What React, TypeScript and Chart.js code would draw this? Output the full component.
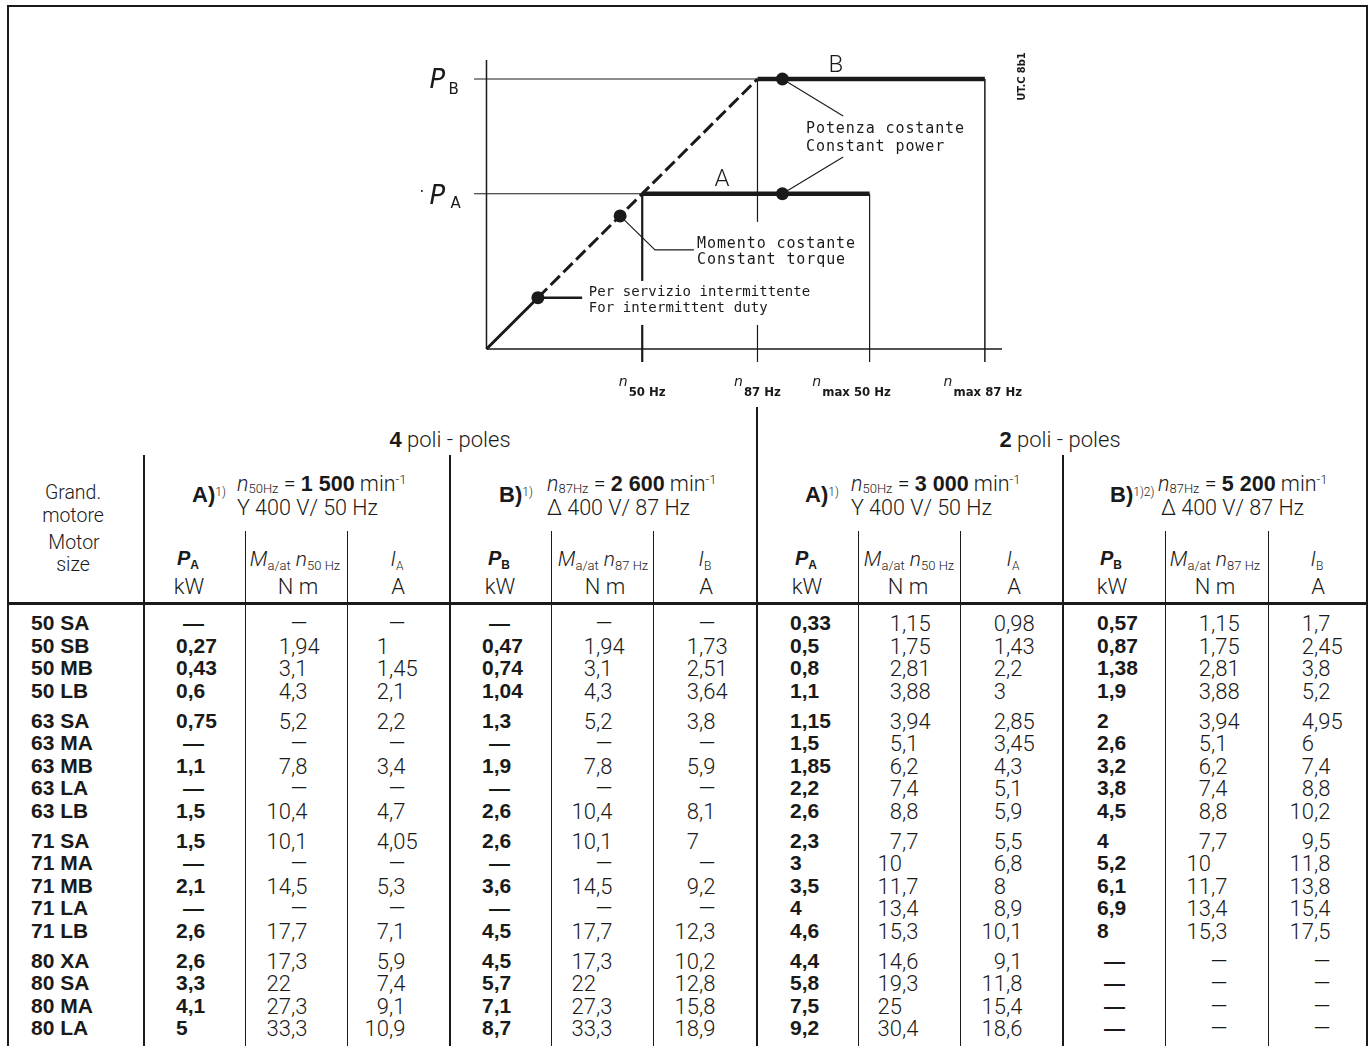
import React, { useEffect, useRef } from 'react';
import { Chart, registerables } from 'chart.js';

Chart.register(...registerables);

/* ---------------- diagram data ---------------- */
const speedTickValues = [50, 87, 123, 160]; // n50Hz, n87Hz, nmax50Hz, nmax87Hz
const speedTickLabels = ['50 Hz', '87 Hz', 'max 50 Hz', 'max 87 Hz'];
const powerLevels = [0.575, 1]; // P_A, P_B (relative power)
const powerLabels = ['A', 'B'];
const speedAxisEnd = 165.5;
const powerAxisEnd = 1.07;
const markerSpeeds = [16.5, 42.9, 95, 95];
const markerPowers = [0.19, 0.493, 0.575, 1];
const noteTexts = [
  ['Potenza costante', 'Constant power'],
  ['Momento costante', 'Constant torque'],
  ['Per servizio intermittente', 'For intermittent duty'],
];
const drawingCode = 'UT.C 8b1';

/* ---------------- table data ---------------- */
const motorSizes = [
  '50 SA', '50 SB', '50 MB', '50 LB',
  '63 SA', '63 MA', '63 MB', '63 LA', '63 LB',
  '71 SA', '71 MA', '71 MB', '71 LA', '71 LB',
  '80 XA', '80 SA', '80 MA', '80 LA',
];
const frameGroupSizes = [4, 5, 5, 4];
const poleTitles = ['4', '2'];
const groupLabels = ['A)', 'B)', 'A)', 'B)'];
const groupNotes = ['1)', '1)', '1)', '1)2)'];
const groupSpeedSubs = ['50Hz', '87Hz', '50Hz', '87Hz'];
const groupSpeeds = ['1 500', '2 600', '3 000', '5 200'];
const groupSupplies = ['Y 400 V/ 50 Hz', '\u0394 400 V/ 87 Hz', 'Y 400 V/ 50 Hz', '\u0394 400 V/ 87 Hz'];
const columnSubs = ['A', 'B', 'A', 'B'];
const torqueSubs = ['50 Hz', '87 Hz', '50 Hz', '87 Hz'];

const p4A_P = [null, 0.27, 0.43, 0.6, 0.75, null, 1.1, null, 1.5, 1.5, null, 2.1, null, 2.6, 2.6, 3.3, 4.1, 5];
const p4A_M = [null, 1.94, 3.1, 4.3, 5.2, null, 7.8, null, 10.4, 10.1, null, 14.5, null, 17.7, 17.3, 22, 27.3, 33.3];
const p4A_I = [null, 1, 1.45, 2.1, 2.2, null, 3.4, null, 4.7, 4.05, null, 5.3, null, 7.1, 5.9, 7.4, 9.1, 10.9];
const p4B_P = [null, 0.47, 0.74, 1.04, 1.3, null, 1.9, null, 2.6, 2.6, null, 3.6, null, 4.5, 4.5, 5.7, 7.1, 8.7];
const p4B_M = [null, 1.94, 3.1, 4.3, 5.2, null, 7.8, null, 10.4, 10.1, null, 14.5, null, 17.7, 17.3, 22, 27.3, 33.3];
const p4B_I = [null, 1.73, 2.51, 3.64, 3.8, null, 5.9, null, 8.1, 7, null, 9.2, null, 12.3, 10.2, 12.8, 15.8, 18.9];
const p2A_P = [0.33, 0.5, 0.8, 1.1, 1.15, 1.5, 1.85, 2.2, 2.6, 2.3, 3, 3.5, 4, 4.6, 4.4, 5.8, 7.5, 9.2];
const p2A_M = [1.15, 1.75, 2.81, 3.88, 3.94, 5.1, 6.2, 7.4, 8.8, 7.7, 10, 11.7, 13.4, 15.3, 14.6, 19.3, 25, 30.4];
const p2A_I = [0.98, 1.43, 2.2, 3, 2.85, 3.45, 4.3, 5.1, 5.9, 5.5, 6.8, 8, 8.9, 10.1, 9.1, 11.8, 15.4, 18.6];
const p2B_P = [0.57, 0.87, 1.38, 1.9, 2, 2.6, 3.2, 3.8, 4.5, 4, 5.2, 6.1, 6.9, 8, null, null, null, null];
const p2B_M = [1.15, 1.75, 2.81, 3.88, 3.94, 5.1, 6.2, 7.4, 8.8, 7.7, 10, 11.7, 13.4, 15.3, null, null, null, null];
const p2B_I = [1.7, 2.45, 3.8, 5.2, 4.95, 6, 7.4, 8.8, 10.2, 9.5, 11.8, 13.8, 15.4, 17.5, null, null, null, null];

/* ---------------- styling / layout ---------------- */
const INK = '#1a1a1a';
const LIGHT = "Roboto, 'Liberation Sans', sans-serif";
const BOLD = "'Liberation Sans', Arial, sans-serif";
const PLOT = "'DejaVu Sans Mono', monospace";

const valueColumns = [p4A_P, p4A_M, p4A_I, p4B_P, p4B_M, p4B_I, p2A_P, p2A_M, p2A_I, p2B_P, p2B_M, p2B_I];
const groupLayout = [
  { label: 192, block: 237, pLeft: 176, mInt: 291, iInt: 389, pHead: 188, mHead: 295, nmHead: 298, iHead: 397 },
  { label: 499, block: 547, pLeft: 482, mInt: 596, iInt: 699, pHead: 499, mHead: 603, nmHead: 605, iHead: 705 },
  { label: 805, block: 851, pLeft: 790, mInt: 902, iInt: 1006, pHead: 806, mHead: 909, nmHead: 908, iHead: 1013 },
  { label: 1110, block: 1158, pLeft: 1097, mInt: 1211, iInt: 1314, pHead: 1111, mHead: 1215, nmHead: 1215, iHead: 1317 },
];
const subDividers = [245, 347, 551, 653, 858, 960, 1165, 1268];
const groupDividers = [143, 449, 1062];
const tickLabelShift = [0, 0, -18, -2];
const HEAD_LINE1 = 484;
const HEAD_LINE2 = 508;
const HEAD_SIZE = 21.5;

const fmt = (v: number) => String(v).replace('.', ',');

function Txt(props: any) {
  const { x, y, size = 22, lh, bold = false, italic = false, align = 'left', family, weight, children, color } = props;
  const L = lh ?? size;
  const yy = bold ? y - 1 : y;
  const style: React.CSSProperties = {
    position: 'absolute',
    left: x,
    top: yy - L / 2 + 0.0135 * size,
    height: L,
    fontSize: size,
    lineHeight: `${L}px`,
    whiteSpace: 'nowrap',
    fontFamily: family ?? (bold ? BOLD : LIGHT),
    fontWeight: weight ?? (bold ? 700 : 300),
    fontStyle: italic ? 'italic' : 'normal',
    color: color ?? INK,
    transform: align === 'center' ? 'translateX(-50%)' : align === 'right' ? 'translateX(-100%)' : undefined,
  };
  return <div style={style}>{children}</div>;
}

const Piece = ({ children, lh = 16, italic = false, bold = false }: any) => (
  <span style={{
    display: 'inline-block', lineHeight: `${lh}px`, fontStyle: italic ? 'italic' : 'normal',
    fontFamily: bold ? BOLD : undefined, fontWeight: bold ? 700 : undefined,
  }}>{children}</span>
);

const Sub = ({ children, size = 13, drop = 2, family = LIGHT, weight = 300 }: any) => (
  <span style={{
    display: 'inline-block', fontSize: size, position: 'relative', top: drop, lineHeight: '9px',
    fontFamily: family, fontWeight: weight, fontStyle: 'normal',
  }}>{children}</span>
);

function Dec({ v, intRight, y }: any) {
  const size = 22;
  if (v === null) return <Txt x={intRight + 8} y={y} align="center" size={size} lh={20}>—</Txt>;
  const s = fmt(v);
  const k = s.indexOf(',');
  const ip = k < 0 ? s : s.slice(0, k);
  const fp = k < 0 ? '' : s.slice(k);
  return (
    <div style={{ position: 'absolute', left: intRight - 60, top: y - 10 + 0.0135 * size, height: 20, fontSize: size, lineHeight: '20px', fontFamily: LIGHT, fontWeight: 300, color: INK, whiteSpace: 'nowrap' }}>
      <span style={{ display: 'inline-block', width: 60, textAlign: 'right' }}>{ip}</span>{fp}
    </div>
  );
}

function rowCentres(): number[] {
  const ys: number[] = [];
  let y = 624;
  frameGroupSizes.forEach((n, g) => {
    if (g > 0) y += 7.5;
    for (let k = 0; k < n; k++) { ys.push(y); y += 22.5; }
  });
  return ys;
}

/* ---------------- diagram plugin (texts) ---------------- */
const noteAnchors = [
  { x: 102.6, y: 0.819, size: 15, spacing: 0.9, lh: 18, padT: 0, padB: 0 },
  { x: 67.6, y: 0.393, size: 15, spacing: 0.9, lh: 16, padT: 21, padB: 22 },
  { x: 32.8, y: 0.215, size: 14, spacing: 0.1, lh: 16, padT: 10, padB: 18 },
];

const diagramText = {
  id: 'diagramText',
  afterDatasetDraw(chart: any, args: any) {
    if (args.index !== 0) return;
    const { ctx, scales } = chart;
    const X = (v: number) => scales.x.getPixelForValue(v);
    const Y = (v: number) => scales.y.getPixelForValue(v);
    ctx.save();
    noteAnchors.forEach((a, i) => {
      if (!a.padT && !a.padB) return;
      ctx.font = `${a.size}px ${PLOT}`;
      (ctx as any).letterSpacing = `${a.spacing}px`;
      const w = Math.max(...noteTexts[i].map((t) => ctx.measureText(t).width));
      const top = Y(a.y) - a.padT;
      const bottom = Y(a.y) + a.lh * (noteTexts[i].length - 1) + a.padB;
      ctx.fillStyle = '#ffffff';
      ctx.fillRect(X(a.x) - 4, top, w + 8, bottom - top);
    });
    ctx.restore();
  },
  afterDatasetsDraw(chart: any) {
    const { ctx, scales } = chart;
    const X = (v: number) => scales.x.getPixelForValue(v);
    const Y = (v: number) => scales.y.getPixelForValue(v);
    ctx.save();
    ctx.fillStyle = INK;
    ctx.textBaseline = 'alphabetic';
    noteAnchors.forEach((a, i) => {
      ctx.font = `${a.size}px ${PLOT}`;
      (ctx as any).letterSpacing = `${a.spacing}px`;
      noteTexts[i].forEach((t, k) => {
        ctx.fillText(t, X(a.x), Y(a.y) + k * a.lh + a.size * 0.36);
      });
    });
    (ctx as any).letterSpacing = '0px';
    ctx.font = `300 24px Roboto`;
    ctx.textAlign = 'center';
    ctx.fillText(powerLabels[1], X(112.2), Y(1.057) + 8.5);
    ctx.fillText(powerLabels[0], X(75.6), Y(0.635) + 8.5);
    ctx.textAlign = 'left';
    const x0 = X(0);
    ctx.font = `oblique 26px 'DejaVu Sans'`;
    ctx.fillText('P', x0 - 57, Y(powerLevels[1]) + 8.5);
    ctx.fillText('P', x0 - 57, Y(powerLevels[0]) + 10.3);
    ctx.font = `15px 'DejaVu Sans'`;
    ctx.fillText(powerLabels[1], x0 - 38, Y(powerLevels[1]) + 15);
    ctx.fillText(powerLabels[0], x0 - 36, Y(powerLevels[0]) + 14);
    ctx.fillText('\u00b7', x0 - 67, Y(powerLevels[0]) + 3);
    speedTickValues.forEach((v, i) => {
      ctx.font = `oblique 14px 'DejaVu Sans'`;
      const nW = ctx.measureText('n').width;
      ctx.font = `bold 13px 'DejaVu Sans Condensed', 'DejaVu Sans'`;
      const lW = ctx.measureText(speedTickLabels[i]).width;
      const start = X(v) + tickLabelShift[i] - (nW + 1 + lW) / 2;
      ctx.font = `oblique 14px 'DejaVu Sans'`;
      ctx.fillText('n', start, Y(0) + 37);
      ctx.font = `bold 13px 'DejaVu Sans Condensed', 'DejaVu Sans'`;
      ctx.fillText(speedTickLabels[i], start + nW + 1, Y(0) + 46.5);
    });
    ctx.save();
    ctx.translate(X(speedTickValues[3]) + 37, Y(1) - 2.5);
    ctx.rotate(-Math.PI / 2);
    ctx.font = `bold 11px 'DejaVu Sans Condensed', 'DejaVu Sans'`;
    ctx.textAlign = 'center';
    ctx.textBaseline = 'middle';
    ctx.fillText(drawingCode, 0, 0);
    ctx.restore();
    ctx.restore();
  },
};

function Diagram() {
  const ref = useRef<HTMLCanvasElement>(null);
  useEffect(() => {
    const [PA, PB] = powerLevels;
    const [n50, n87, nmax50, nmax87] = speedTickValues;
    const below = -0.048;
    const ln = (data: any[], width: number, order: number, extra: any = {}) => ({
      data, borderColor: INK, backgroundColor: INK, borderWidth: width, showLine: true,
      pointRadius: 0, pointHoverRadius: 0, fill: false, clip: false, order, borderCapStyle: 'butt', ...extra,
    });
    const m = (i: number) => ({ x: markerSpeeds[i], y: markerPowers[i] });
    const datasets: any[] = [
      ln([{ x: 0, y: 0 }, { x: 0, y: powerAxisEnd }], 1.5, 3),
      ln([{ x: 0, y: 0 }, { x: speedAxisEnd, y: 0 }], 1.5, 3),
      ln([{ x: -4, y: PB }, { x: n87, y: PB }], 1.1, 3),
      ln([{ x: -4, y: PA }, { x: n50, y: PA }], 1.1, 3),
      ln([{ x: n50, y: PA }, { x: n50, y: below }], 2.2, 3),
      ln([{ x: n87, y: PB }, { x: n87, y: below }], 1.2, 3),
      ln([{ x: nmax50, y: PA }, { x: nmax50, y: below }], 1.2, 3),
      ln([{ x: nmax87, y: PB }, { x: nmax87, y: below }], 1.5, 3),
      ln([{ x: n50, y: PA }, { x: nmax50, y: PA }], 4.5, 1),
      ln([{ x: n87, y: PB }, { x: nmax87, y: PB }], 4.5, 1),
      ln([{ x: 0, y: 0 }, m(0)], 3, 1),
      ln([m(0), { x: n87, y: PB }], 3, 1, { borderDash: [13, 5] }),
      ln([m(3), { x: 114.5, y: 0.863 }], 1.1, 1),
      ln([m(2), { x: 114.5, y: 0.711 }], 1.1, 1),
      ln([m(1), { x: 54.1, y: 0.367 }, { x: 66.6, y: 0.367 }], 1.1, 1),
      ln([m(0), { x: 30.7, y: 0.19 }], 2.6, 1),
      {
        data: markerSpeeds.map((s, i) => ({ x: s, y: markerPowers[i] })),
        showLine: false, pointRadius: 6.5, pointHoverRadius: 6.5, pointBackgroundColor: INK,
        pointBorderWidth: 0, clip: false, order: 0,
      },
    ];
    const chart = new Chart(ref.current!, {
      type: 'scatter',
      data: { datasets },
      options: {
        animation: false,
        responsive: false,
        devicePixelRatio: 1,
        events: [],
        layout: { padding: { left: 87.8, right: 58, top: 30.1, bottom: 44.8 } },
        scales: {
          x: { type: 'linear', min: -6, max: speedAxisEnd, display: false },
          y: { type: 'linear', min: -0.06, max: powerAxisEnd, display: false },
        },
        plugins: { legend: { display: false }, tooltip: { enabled: false } },
      },
      plugins: [diagramText],
    } as any);
    return () => chart.destroy();
  }, []);
  return (
    <canvas ref={ref} width={680} height={380} style={{ position: 'absolute', left: 380, top: 30, width: 680, height: 380 }} />
  );
}

export default function App() {
  const ys = rowCentres();
  const vline = (x: number, top: number, w: number, key: string) => (
    <div key={key} style={{ position: 'absolute', left: x, top, width: w, height: 1046 - top + 20, background: INK }} />
  );
  return (
    <div style={{ position: 'fixed', left: 0, top: 0, width: 1372, height: 1046, background: '#fff', overflow: 'hidden', color: INK }}>
      <div style={{ position: 'absolute', left: 7, top: 5, width: 1361, height: 1200, border: `2px solid ${INK}`, boxSizing: 'border-box' }} />
      <Diagram />
      {vline(756, 407, 2, 'pole')}
      {groupDividers.map((x, i) => vline(x, 455, 2, 'g' + i))}
      {subDividers.map((x, i) => vline(x, 531, 1, 's' + i))}
      <div style={{ position: 'absolute', left: 7, top: 602, width: 1361, height: 2.5, background: INK }} />

      {poleTitles.map((p, i) => (
        <Txt key={'pt' + i} x={i === 0 ? 450 : 1060} y={440} align="center" lh={20}>
          <Piece bold lh={20}>{p}</Piece> poli - poles
        </Txt>
      ))}

      <Txt x={73} y={493} align="center" size={19.5} lh={16}>Grand.</Txt>
      <Txt x={73} y={515.5} align="center" size={19.5} lh={16}>motore</Txt>
      <Txt x={74} y={542.5} align="center" size={19.5} lh={16}>Motor</Txt>
      <Txt x={73} y={565} align="center" size={19.5} lh={16}>size</Txt>

      {groupLayout.map((g, i) => (
        <React.Fragment key={'gh' + i}>
          <Txt x={g.label} y={496} bold size={22} lh={16}>
            {groupLabels[i]}
            <Sub size={12} drop={-6}>{groupNotes[i]}</Sub>
          </Txt>
          <Txt x={g.block} y={HEAD_LINE1} size={HEAD_SIZE} lh={16}>
            <Piece italic>n</Piece><Sub size={13} drop={2}>{groupSpeedSubs[i]}</Sub> = <Piece bold>{groupSpeeds[i]}</Piece> min<Sub size={13} drop={-7}>-1</Sub>
          </Txt>
          <Txt x={g.block + (i === 3 ? 3 : 0)} y={HEAD_LINE2} size={HEAD_SIZE} lh={16}>{groupSupplies[i]}</Txt>
          <Txt x={g.pHead} y={559} align="center" bold size={20} lh={18}>
            <Piece italic bold lh={18}>P</Piece><Sub size={12} drop={4} family={BOLD} weight={700}>{columnSubs[i]}</Sub>
          </Txt>
          <Txt x={g.pHead + 1} y={587} align="center" lh={18}>kW</Txt>
          <Txt x={g.mHead} y={559} align="center" size={21} lh={18}>
            <Piece italic lh={18}>M</Piece><Sub size={13} drop={4}>a/at</Sub> <Piece italic lh={18}>n</Piece><Sub size={13} drop={4}>{torqueSubs[i]}</Sub>
          </Txt>
          <Txt x={g.nmHead} y={587} align="center" lh={18}>N m</Txt>
          <Txt x={g.iHead} y={559} align="center" size={21} lh={18}>
            <Piece italic lh={18}>I</Piece><Sub size={12} drop={4}>{columnSubs[i]}</Sub>
          </Txt>
          <Txt x={g.iHead + 1} y={587} align="center" lh={18}>A</Txt>
        </React.Fragment>
      ))}

      {motorSizes.map((s, r) => (
        <Txt key={'ms' + r} x={31} y={ys[r]} bold size={21} lh={20}>{s}</Txt>
      ))}

      {valueColumns.map((col, c) => {
        const g = groupLayout[Math.floor(c / 3)];
        const kind = c % 3;
        return col.map((v, r) => {
          const key = `v${c}-${r}`;
          if (kind === 0) {
            return v === null
              ? <Txt key={key} x={g.pLeft + 7} y={ys[r]} bold size={21} lh={20}>—</Txt>
              : <Txt key={key} x={g.pLeft} y={ys[r]} bold size={21} lh={20}>{fmt(v)}</Txt>;
          }
          return <Dec key={key} v={v} intRight={kind === 1 ? g.mInt : g.iInt} y={ys[r]} />;
        });
      })}
    </div>
  );
}
